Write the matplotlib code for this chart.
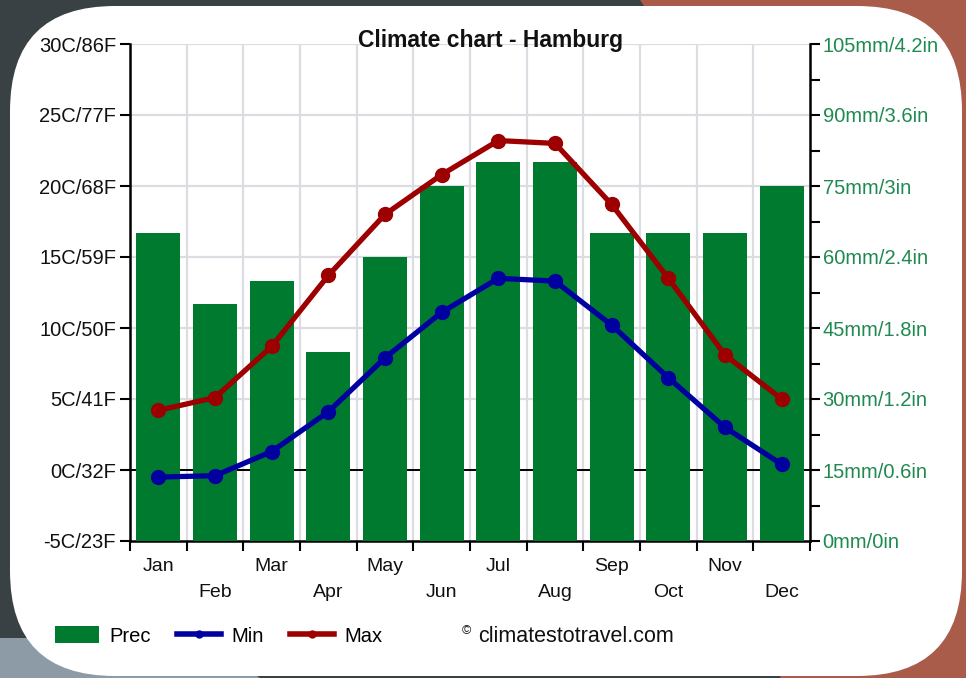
import matplotlib
matplotlib.use('Agg')
from matplotlib import pyplot as plt
from matplotlib.patches import FancyBboxPatch, Polygon, Patch
from matplotlib.lines import Line2D
from matplotlib.transforms import IdentityTransform

plt.rcParams['font.family'] = ['Liberation Sans', 'DejaVu Sans']

months = ['Jan', 'Feb', 'Mar', 'Apr', 'May', 'Jun', 'Jul', 'Aug', 'Sep', 'Oct', 'Nov', 'Dec']
prec = [65, 50, 55, 40, 60, 75, 80, 80, 65, 65, 65, 75]            # mm
t_min = [-0.5, -0.4, 1.3, 4.1, 7.9, 11.1, 13.5, 13.3, 10.2, 6.5, 3.0, 0.4]
t_max = [4.2, 5.1, 8.7, 13.7, 18.0, 20.8, 23.2, 23.0, 18.7, 13.5, 8.1, 5.0]

temp_ticks = [-5, 0, 5, 10, 15, 20, 25, 30]
temp_labels = ['-5C/23F', '0C/32F', '5C/41F', '10C/50F', '15C/59F', '20C/68F', '25C/77F', '30C/86F']
prec_ticks = [0, 15, 30, 45, 60, 75, 90, 105]
prec_labels = ['0mm/0in', '15mm/0.6in', '30mm/1.2in', '45mm/1.8in', '60mm/2.4in',
               '75mm/3in', '90mm/3.6in', '105mm/4.2in']

GREEN = '#007a2e'
RED = '#9c0000'
BLUE = '#0000a0'
LABEL_GREEN = '#1f8a50'

fig = plt.figure(figsize=(9.66, 6.78), dpi=100, facecolor='#3a4144')

# background bits (rust area on the right, pale strip bottom-left, white rounded panel)
fig.patches.append(Polygon([[640, 678], [966, 678], [966, 0], [780, 0], [900, 300]],
                           closed=True, transform=IdentityTransform(),
                           facecolor='#a95c4a', edgecolor='none', zorder=-3))
fig.patches.append(Polygon([[0, 0], [260, 0], [200, 40], [0, 40]],
                           closed=True, transform=IdentityTransform(),
                           facecolor='#8d9ba6', edgecolor='none', zorder=-3))
fig.patches.append(FancyBboxPatch((10, 2), 952, 670,
                                  boxstyle='round,pad=0,rounding_size=105',
                                  transform=IdentityTransform(),
                                  facecolor='white', edgecolor='none', zorder=-2))

rect = [130 / 966, 1 - 541 / 678, 680 / 966, 497 / 678]
ax = fig.add_axes(rect)
ax.set_facecolor('none')
x = list(range(12))

# grid + zero line on the bottom axes
ax.set_xlim(-0.5, 11.5)
ax.set_ylim(-5, 30)
for b in [i + 0.5 for i in range(11)]:
    ax.axvline(b, color='#dcdce2', lw=1.6, zorder=0)
for t in temp_ticks[1:]:
    ax.axhline(t, color='#dcdce2', lw=1.6, zorder=0)
ax.axhline(0, color='black', lw=1.4, zorder=1)

ax.set_yticks(temp_ticks)
ax.set_yticklabels(temp_labels, fontsize=14.5, color='#111111')
ax.set_xticks([i - 0.5 for i in range(13)])
ax.set_xticklabels([])
ax.set_xticks(x, minor=True)
ax.set_xticklabels([m if i % 2 == 0 else '\n' + m for i, m in enumerate(months)],
                   minor=True, fontsize=14, color='#111111', linespacing=1.75)
ax.tick_params(axis='x', which='minor', length=0, pad=12)
ax.tick_params(axis='x', which='major', length=7, width=1.5, direction='out')
ax.tick_params(axis='y', length=7, width=1.5, direction='out', pad=3)
for s in ['top', 'right']:
    ax.spines[s].set_visible(False)
for s in ['left', 'bottom']:
    ax.spines[s].set_linewidth(1.8)

# precipitation bars on the right scale
ax2 = ax.twinx()
ax2.bar(x, prec, width=0.78, color=GREEN, zorder=2)
ax2.set_ylim(0, 105)
ax2.set_yticks(prec_ticks)
ax2.set_yticklabels(prec_labels, fontsize=14.5, color=LABEL_GREEN)
ax2.set_yticks([7.5 + 15 * i for i in range(7)], minor=True)
ax2.tick_params(axis='y', which='both', length=7, width=1.5, direction='out', pad=2)
for s in ['top', 'left', 'bottom']:
    ax2.spines[s].set_visible(False)
ax2.spines['right'].set_linewidth(1.8)

# temperature lines on top
ax3 = ax.twinx()
ax3.set_ylim(-5, 30)
ax3.axis('off')
ax3.plot(x, t_min, color=BLUE, lw=3.8, marker='o', ms=10, solid_capstyle='round')
ax3.plot(x, t_max, color=RED, lw=3.8, marker='o', ms=10, solid_capstyle='round')

fig.text(491 / 966, 1 - 40 / 678, 'Climate chart - Hamburg', ha='center', va='center',
         fontsize=16.5, fontweight='bold', color='#111111')

handles = [Patch(facecolor=GREEN, edgecolor='none'),
           Line2D([], [], color=BLUE, lw=4, marker='o', ms=5),
           Line2D([], [], color=RED, lw=4, marker='o', ms=5)]
fig.legend(handles, ['Prec', 'Min', 'Max'], loc='center left',
           bbox_to_anchor=(37 / 966, 1 - 636 / 678), ncol=3, frameon=False,
           fontsize=14.5, handlelength=2.2, handleheight=0.9, handletextpad=0.5,
           columnspacing=1.3)
fig.text(462 / 966, 1 - 631 / 678, '©', fontsize=9, ha='left', va='center', color='#111111')
fig.text(478 / 966, 1 - 637 / 678, 'climatestotravel.com', fontsize=15.5, ha='left',
         va='center', color='#111111')

fig.savefig('out.png', dpi=100, facecolor=fig.get_facecolor())
